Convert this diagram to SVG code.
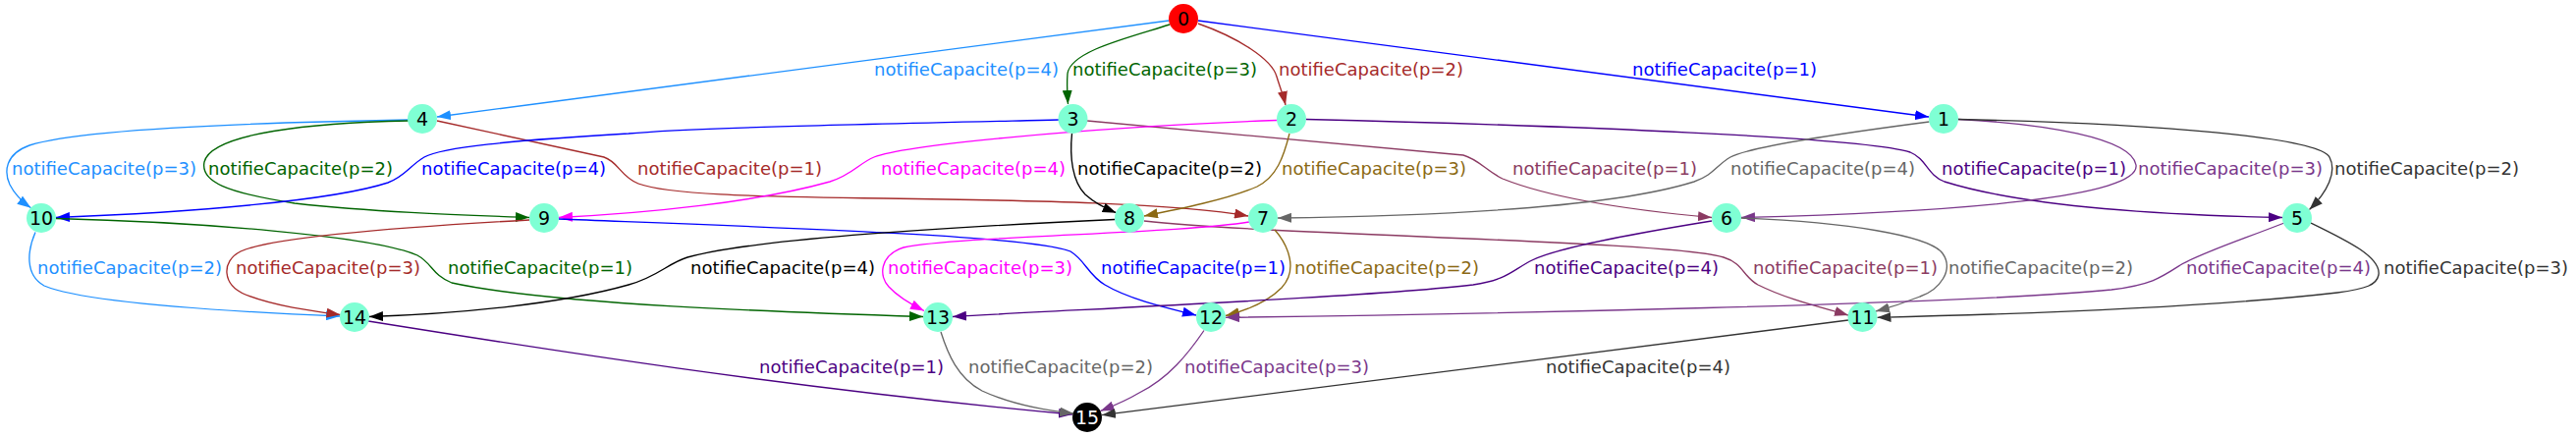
<svg xmlns="http://www.w3.org/2000/svg" width="2623" height="445" viewBox="0 0 2623 445">
<style>
.e{fill:none;stroke-width:1.33}
.l{font-family:"DejaVu Sans","Liberation Sans",sans-serif;font-size:18px;text-anchor:middle}
.n{font-family:"DejaVu Sans","Liberation Sans",sans-serif;font-size:19px;text-anchor:middle}
.nd{fill:#7fffd4}
.s-db{stroke:#1e90ff}.f-db{fill:#1e90ff}
.s-gr{stroke:#006400}.f-gr{fill:#006400}
.s-br{stroke:#a52a2a}.f-br{fill:#a52a2a}
.s-bl{stroke:#0000ff}.f-bl{fill:#0000ff}
.s-bk{stroke:#000000}.f-bk{fill:#000000}
.s-mr{stroke:#8b3a62}.f-mr{fill:#8b3a62}
.s-mg{stroke:#ff00ff}.f-mg{fill:#ff00ff}
.s-ol{stroke:#8b6914}.f-ol{fill:#8b6914}
.s-in{stroke:#4b0082}.f-in{fill:#4b0082}
.s-gy{stroke:#666666}.f-gy{fill:#666666}
.s-pu{stroke:#7a378b}.f-pu{fill:#7a378b}
.s-dg{stroke:#333333}.f-dg{fill:#333333}
</style>
<defs>
<marker id="m-db" viewBox="0 0 14 10" refX="14" refY="5" markerWidth="14" markerHeight="10" markerUnits="userSpaceOnUse" orient="auto"><path d="M0,0L14,5L0,10z" fill="#1e90ff"/></marker>
<marker id="m-gr" viewBox="0 0 14 10" refX="14" refY="5" markerWidth="14" markerHeight="10" markerUnits="userSpaceOnUse" orient="auto"><path d="M0,0L14,5L0,10z" fill="#006400"/></marker>
<marker id="m-br" viewBox="0 0 14 10" refX="14" refY="5" markerWidth="14" markerHeight="10" markerUnits="userSpaceOnUse" orient="auto"><path d="M0,0L14,5L0,10z" fill="#a52a2a"/></marker>
<marker id="m-bl" viewBox="0 0 14 10" refX="14" refY="5" markerWidth="14" markerHeight="10" markerUnits="userSpaceOnUse" orient="auto"><path d="M0,0L14,5L0,10z" fill="#0000ff"/></marker>
<marker id="m-bk" viewBox="0 0 14 10" refX="14" refY="5" markerWidth="14" markerHeight="10" markerUnits="userSpaceOnUse" orient="auto"><path d="M0,0L14,5L0,10z" fill="#000000"/></marker>
<marker id="m-mr" viewBox="0 0 14 10" refX="14" refY="5" markerWidth="14" markerHeight="10" markerUnits="userSpaceOnUse" orient="auto"><path d="M0,0L14,5L0,10z" fill="#8b3a62"/></marker>
<marker id="m-mg" viewBox="0 0 14 10" refX="14" refY="5" markerWidth="14" markerHeight="10" markerUnits="userSpaceOnUse" orient="auto"><path d="M0,0L14,5L0,10z" fill="#ff00ff"/></marker>
<marker id="m-ol" viewBox="0 0 14 10" refX="14" refY="5" markerWidth="14" markerHeight="10" markerUnits="userSpaceOnUse" orient="auto"><path d="M0,0L14,5L0,10z" fill="#8b6914"/></marker>
<marker id="m-in" viewBox="0 0 14 10" refX="14" refY="5" markerWidth="14" markerHeight="10" markerUnits="userSpaceOnUse" orient="auto"><path d="M0,0L14,5L0,10z" fill="#4b0082"/></marker>
<marker id="m-gy" viewBox="0 0 14 10" refX="14" refY="5" markerWidth="14" markerHeight="10" markerUnits="userSpaceOnUse" orient="auto"><path d="M0,0L14,5L0,10z" fill="#666666"/></marker>
<marker id="m-pu" viewBox="0 0 14 10" refX="14" refY="5" markerWidth="14" markerHeight="10" markerUnits="userSpaceOnUse" orient="auto"><path d="M0,0L14,5L0,10z" fill="#7a378b"/></marker>
<marker id="m-dg" viewBox="0 0 14 10" refX="14" refY="5" markerWidth="14" markerHeight="10" markerUnits="userSpaceOnUse" orient="auto"><path d="M0,0L14,5L0,10z" fill="#333333"/></marker>
</defs>
<rect width="2623" height="445" fill="#ffffff"/>
<g id="connectors">
<g id="e0-4"><path class="e s-db" marker-end="url(#m-db)" d="M1190,21 L445,119"/><text class="l f-db" x="984" y="77">notifieCapacite(p=4)</text></g>
<g id="e0-3"><path class="e s-gr" marker-end="url(#m-gr)" d="M1191,25 C1150,38 1090,52 1087,75 C1086,88 1087,97 1087.5,106"/><text class="l f-gr" x="1186" y="77">notifieCapacite(p=3)</text></g>
<g id="e0-2"><path class="e s-br" marker-end="url(#m-br)" d="M1220,24 C1260,38 1295,60 1300,78 C1303,88 1307,98 1309,107"/><text class="l f-br" x="1396" y="77">notifieCapacite(p=2)</text></g>
<g id="e0-1"><path class="e s-bl" marker-end="url(#m-bl)" d="M1220,21 L1964,119"/><text class="l f-bl" x="1756" y="77">notifieCapacite(p=1)</text></g>

<g id="e4-10"><path class="e s-db" marker-end="url(#m-db)" d="M416,122 C250,125 80,132 30,148 C5,157 4,175 10,188 C15,198 22,205 31.6,211.7"/><text class="l f-db" x="106" y="178">notifieCapacite(p=3)</text></g>
<g id="e4-9"><path class="e s-gr" marker-end="url(#m-gr)" d="M416,123 C320,125 215,135 208,165 C204,185 230,196 300,207 C380,216 470,219 539,221.5"/><text class="l f-gr" x="306" y="178">notifieCapacite(p=2)</text></g>
<g id="e4-7"><path class="e s-br" marker-end="url(#m-br)" d="M445,123 L615,160 C630,165 632,180 650,187 C680,198 760,200 900,202 C1050,204 1200,207 1271,220"/><text class="l f-br" x="743" y="178">notifieCapacite(p=1)</text></g>
<g id="e3-10"><path class="e s-bl" marker-end="url(#m-bl)" d="M1078,122 C900,126 700,130 640,136 C520,143 450,150 432,160 C418,168 412,180 395,186 C340,204 200,216 57,221.5"/><text class="l f-bl" x="523" y="178">notifieCapacite(p=4)</text></g>
<g id="e3-8"><path class="e s-bk" marker-end="url(#m-bk)" d="M1091.5,136 C1089,160 1092,185 1105,198 C1115,207 1125,212 1136.6,216.7"/><text class="l f-bk" x="1191" y="178">notifieCapacite(p=2)</text></g>
<g id="e3-6"><path class="e s-mr" marker-end="url(#m-mr)" d="M1107,123 L1490,158 C1505,162 1515,175 1530,182 C1580,202 1660,214 1743,221.5"/><text class="l f-mr" x="1634" y="178">notifieCapacite(p=1)</text></g>
<g id="e2-9"><path class="e s-mg" marker-end="url(#m-mg)" d="M1300,122.5 C1100,130 920,148 890,160 C875,166 868,178 845,185 C770,206 660,217 569,221.5"/><text class="l f-mg" x="991" y="178">notifieCapacite(p=4)</text></g>
<g id="e2-8"><path class="e s-ol" marker-end="url(#m-ol)" d="M1313,136 C1307,160 1300,180 1280,190 C1250,203 1200,213 1165,220"/><text class="l f-ol" x="1399" y="178">notifieCapacite(p=3)</text></g>
<g id="e2-5"><path class="e s-in" marker-end="url(#m-in)" d="M1330,121.5 C1600,128 1900,140 1945,155 C1962,162 1962,178 1980,185 C2060,210 2200,219 2324,221.5"/><text class="l f-in" x="2071" y="178">notifieCapacite(p=1)</text></g>
<g id="e1-7"><path class="e s-gy" marker-end="url(#m-gy)" d="M1964.5,124 C1880,135 1780,150 1762,160 C1748,168 1745,178 1725,185 C1640,212 1450,220 1301,222"/><text class="l f-gy" x="1856" y="178">notifieCapacite(p=4)</text></g>
<g id="e1-6"><path class="e s-pu" marker-end="url(#m-pu)" d="M1994,121.5 C2080,126 2170,140 2175,168 C2180,200 2000,216 1773,221.5"/><text class="l f-pu" x="2271" y="178">notifieCapacite(p=3)</text></g>
<g id="e1-5"><path class="e s-dg" marker-end="url(#m-dg)" d="M1994,121.5 C2200,126 2360,140 2372,160 C2380,175 2370,195 2351.5,213.5"/><text class="l f-dg" x="2471" y="178">notifieCapacite(p=2)</text></g>

<g id="e10-14"><path class="e s-db" marker-end="url(#m-db)" d="M36,236.5 C28,255 25,280 45,291 C90,310 250,318 346,322"/><text class="l f-db" x="132" y="279">notifieCapacite(p=2)</text></g>
<g id="e10-13"><path class="e s-gr" marker-end="url(#m-gr)" d="M57,222.5 C200,226 380,240 425,260 C440,268 440,280 460,288 C560,310 800,318 940,322.5"/><text class="l f-gr" x="550" y="279">notifieCapacite(p=1)</text></g>
<g id="e9-14"><path class="e s-br" marker-end="url(#m-br)" d="M539,224 C430,230 280,240 245,256 C225,266 226,290 250,300 C280,312 320,317 346.5,320.5"/><text class="l f-br" x="334" y="279">notifieCapacite(p=3)</text></g>
<g id="e9-12"><path class="e s-bl" marker-end="url(#m-bl)" d="M569,223 C800,232 1050,240 1090,256 C1105,265 1108,280 1125,290 C1150,305 1190,314 1218,321"/><text class="l f-bl" x="1215" y="279">notifieCapacite(p=1)</text></g>
<g id="e8-14"><path class="e s-bk" marker-end="url(#m-bk)" d="M1135,223.5 C950,232 760,245 700,262 C680,268 670,282 640,290 C570,310 460,320 376,322.5"/><text class="l f-bk" x="797" y="279">notifieCapacite(p=4)</text></g>
<g id="e8-11"><path class="e s-mr" marker-end="url(#m-mr)" d="M1165,225 C1300,240 1700,245 1755,262 C1775,268 1775,282 1790,290 C1820,305 1855,313 1882,321"/><text class="l f-mr" x="1879" y="279">notifieCapacite(p=1)</text></g>
<g id="e7-13"><path class="e s-mg" marker-end="url(#m-mg)" d="M1272,226 C1200,238 980,240 920,252 C895,260 895,282 905,292 C915,303 928,310 941,316.5"/><text class="l f-mg" x="998" y="279">notifieCapacite(p=3)</text></g>
<g id="e7-12"><path class="e s-ol" marker-end="url(#m-ol)" d="M1298,234 C1312,250 1322,275 1305,293 C1290,308 1270,316 1248,321.5"/><text class="l f-ol" x="1412" y="279">notifieCapacite(p=2)</text></g>
<g id="e6-13"><path class="e s-in" marker-end="url(#m-in)" d="M1743,225 C1650,240 1580,255 1560,265 C1540,275 1535,285 1500,290 C1400,302 1100,315 970,322.5"/><text class="l f-in" x="1656" y="279">notifieCapacite(p=4)</text></g>
<g id="e6-11"><path class="e s-gy" marker-end="url(#m-gy)" d="M1773,222 C1880,226 1965,240 1978,258 C1990,275 1975,295 1955,302 C1940,308 1925,313 1910,317"/><text class="l f-gy" x="2078" y="279">notifieCapacite(p=2)</text></g>
<g id="e5-12"><path class="e s-pu" marker-end="url(#m-pu)" d="M2326,227 C2280,245 2240,258 2220,270 C2200,283 2190,290 2150,295 C2000,310 1500,320 1248,323.3"/><text class="l f-pu" x="2320" y="279">notifieCapacite(p=4)</text></g>
<g id="e5-11"><path class="e s-dg" marker-end="url(#m-dg)" d="M2353,227 C2390,245 2425,262 2422,280 C2420,290 2410,294 2380,298 C2250,313 2050,320 1911.5,323.3"/><text class="l f-dg" x="2521" y="279">notifieCapacite(p=3)</text></g>

<g id="e14-15"><path class="e s-in" marker-end="url(#m-in)" d="M375,327 C550,355 800,395 1092,422"/><text class="l f-in" x="867" y="380">notifieCapacite(p=1)</text></g>
<g id="e13-15"><path class="e s-gy" marker-end="url(#m-gy)" d="M958,338 C965,360 975,385 1000,398 C1030,412 1065,418 1093,421"/><text class="l f-gy" x="1080" y="380">notifieCapacite(p=2)</text></g>
<g id="e12-15"><path class="e s-pu" marker-end="url(#m-pu)" d="M1226,336.5 C1210,360 1190,385 1160,400 C1145,409 1132,414 1120.5,418.5"/><text class="l f-pu" x="1300" y="380">notifieCapacite(p=3)</text></g>
<g id="e11-15"><path class="e s-dg" marker-end="url(#m-dg)" d="M1882,326 L1122,422.7"/><text class="l f-dg" x="1668" y="380">notifieCapacite(p=4)</text></g>
</g>

<g id="node0"><circle cx="1205" cy="19" r="15" fill="#ff0000"/><text class="n" x="1205" y="26">0</text></g>
<g id="node4"><circle class="nd" cx="430" cy="121" r="15"/><text class="n" x="430" y="128">4</text></g>
<g id="node3"><circle class="nd" cx="1092.5" cy="121" r="15"/><text class="n" x="1092.5" y="128">3</text></g>
<g id="node2"><circle class="nd" cx="1315" cy="121" r="15"/><text class="n" x="1315" y="128">2</text></g>
<g id="node1"><circle class="nd" cx="1979" cy="121" r="15"/><text class="n" x="1979" y="128">1</text></g>
<g id="node10"><circle class="nd" cx="42" cy="222" r="15"/><text class="n" x="42" y="229">10</text></g>
<g id="node9"><circle class="nd" cx="554" cy="222" r="15"/><text class="n" x="554" y="229">9</text></g>
<g id="node8"><circle class="nd" cx="1150" cy="222" r="15"/><text class="n" x="1150" y="229">8</text></g>
<g id="node7"><circle class="nd" cx="1286" cy="222" r="15"/><text class="n" x="1286" y="229">7</text></g>
<g id="node6"><circle class="nd" cx="1758" cy="222" r="15"/><text class="n" x="1758" y="229">6</text></g>
<g id="node5"><circle class="nd" cx="2339" cy="222" r="15"/><text class="n" x="2339" y="229">5</text></g>
<g id="node14"><circle class="nd" cx="361" cy="323" r="15"/><text class="n" x="361" y="330">14</text></g>
<g id="node13"><circle class="nd" cx="955" cy="323" r="15"/><text class="n" x="955" y="330">13</text></g>
<g id="node12"><circle class="nd" cx="1233" cy="323" r="15"/><text class="n" x="1233" y="330">12</text></g>
<g id="node11"><circle class="nd" cx="1896.5" cy="323" r="15"/><text class="n" x="1896.5" y="330">11</text></g>
<g id="node15"><circle cx="1107" cy="425" r="15" fill="#000000"/><text class="n" x="1107" y="432" fill="#ffffff">15</text></g>
</svg>
